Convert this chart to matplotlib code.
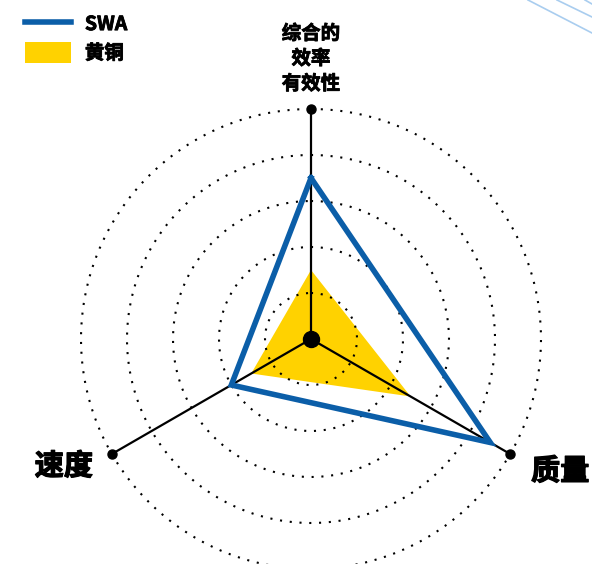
import numpy as np
import matplotlib
matplotlib.use("Agg")
import matplotlib.pyplot as plt
import matplotlib.patheffects as pe
from matplotlib.lines import Line2D
from matplotlib.patches import Patch

plt.rcParams["font.family"] = ["Noto Sans CJK SC", "DejaVu Sans"]

AXES_LABELS = ["综合的\n效率\n有效性", "质量", "速度"]
SWA = [0.7, 0.9, 0.4]
BRASS = [0.3, 0.5, 0.3]
RINGS = [0.2, 0.4, 0.6, 0.8, 1.0]

BLUE = "#0b5ea8"
YELLOW = "#ffd200"

W, H, DPI = 592, 564, 100
CX, CY, R = 311, 339, 230  # centre and radius in pixels


def bold(w):
    # the CJK font has no bold face here, so fake it with a thin stroke
    return [pe.withStroke(linewidth=w, foreground="black")]


fig = plt.figure(figsize=(W / DPI, H / DPI), dpi=DPI)
ax = fig.add_axes([(CX - R) / W, (H - CY - R) / H, 2 * R / W, 2 * R / H], projection="polar")
ax.set_theta_offset(np.pi / 2)
ax.set_theta_direction(-1)
ax.set_ylim(0, 1)
ax.axis("off")

n = len(AXES_LABELS)
theta = np.arange(n) * 2 * np.pi / n
closed = np.append(theta, theta[0])

# brass fill
ax.fill(closed, BRASS + BRASS[:1], color=YELLOW, lw=0, zorder=1)

# dotted rings
t = np.linspace(0, 2 * np.pi, 400)
for r in RINGS:
    ax.plot(t, np.full_like(t, r), color="black", lw=1.5, ls=(0, (1, 3.7)),
            zorder=2, clip_on=False)

# spokes
for th in theta:
    ax.plot([th, th], [0, 1], color="black", lw=1.6, zorder=3)
ax.plot(theta, np.ones(n), ls="none", marker="o", ms=6.5, color="black", zorder=5, clip_on=False)
ax.plot([0], [0], marker="o", ms=11.5, color="black", zorder=5)

# SWA outline
ax.plot(closed, SWA + SWA[:1], color=BLUE, lw=4, solid_joinstyle="miter", zorder=4)

# axis labels
offsets = [(0, 50), (50, -17), (-48, -12)]
sizes = [14, 21, 21]
strokes = [0.6, 0.9, 0.9]
for th, lab, off, fs, sw in zip(theta, AXES_LABELS, offsets, sizes, strokes):
    ax.annotate(lab, xy=(th, 1), xytext=off, textcoords="offset pixels",
                ha="center", va="center", fontsize=fs, fontweight="bold",
                linespacing=1.4, annotation_clip=False, path_effects=bold(sw))

# legend
handles = [Line2D([], [], color=BLUE, lw=4), Patch(color=YELLOW, lw=0)]
leg = fig.legend(handles, ["SWA", "黄铜"], loc="upper left", bbox_to_anchor=(0.012, 1.008),
                 frameon=False, prop={"size": 14, "weight": "bold"},
                 handlelength=2.4, handleheight=1.3, handletextpad=0.7, labelspacing=0.4)
for txt in leg.get_texts():
    txt.set_path_effects(bold(0.6))

# decorative corner lines
for x0, y0, x1, y1 in [(528, 0, 592, 33), (557, 0, 592, 17), (585, 0, 592, 4)]:
    fig.add_artist(Line2D([x0 / W, x1 / W], [1 - y0 / H, 1 - y1 / H],
                          color="#a9cdef", lw=1.2, transform=fig.transFigure))

fig.savefig("out.png", dpi=DPI)
